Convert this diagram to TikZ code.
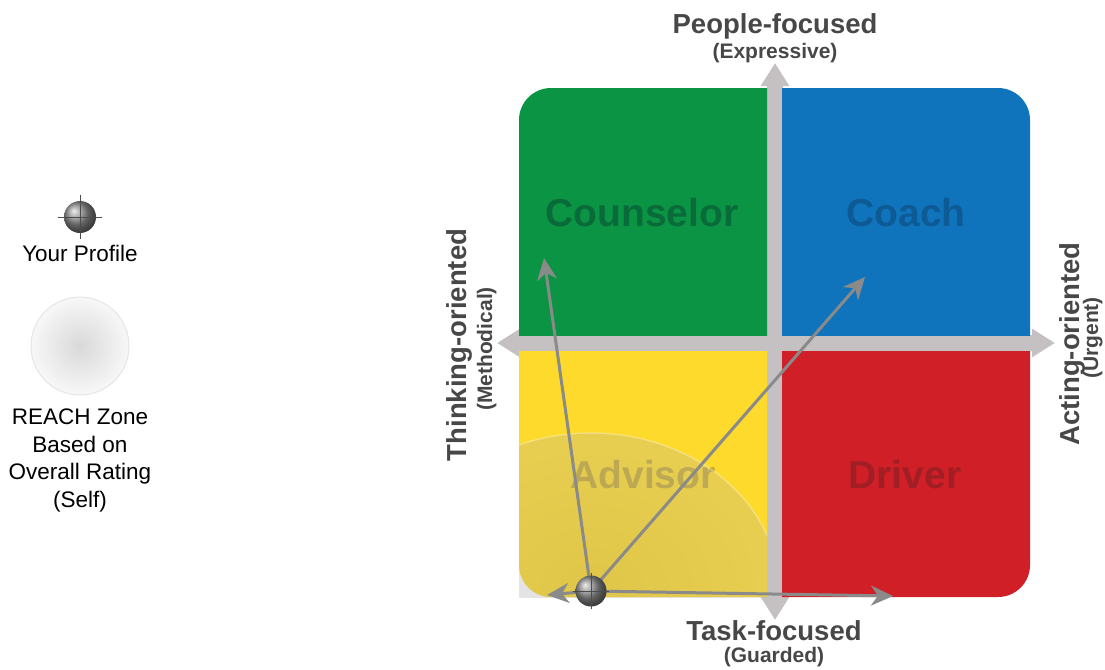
\documentclass[tikz,border=0pt]{standalone}
\usepackage{fontspec}
\setmainfont{Liberation Sans}
\usepackage{tikz}
\usetikzlibrary{arrows.meta,positioning,calc}

\definecolor{qgreen}{HTML}{0B9444}
\definecolor{qblue}{HTML}{0F74BB}
\definecolor{qyellow}{HTML}{FDDA2B}
\definecolor{qred}{HTML}{D11F27}
\definecolor{labgreen}{HTML}{0A6B3A}
\definecolor{labblue}{HTML}{0D5A94}
\definecolor{labyellow}{HTML}{C4A832}
\definecolor{labred}{HTML}{A11E24}
\definecolor{crossgray}{HTML}{C5C1C2}
\definecolor{axisgray}{HTML}{474747}
\definecolor{vecgray}{HTML}{8A8A8A}

% profile marker: name, place, diameter, arm length
\newcommand{\profmark}[4]{%
  \node[profball, minimum size=#3] (#1) at (#2) {};
  \draw[crossline] ([xshift=-#4]#1.center) -- ([xshift=#4]#1.center);
  \draw[crossline] ([yshift=-#4]#1.center) -- ([yshift=#4]#1.center);
}

\begin{document}
\begin{tikzpicture}[x=1pt, y=-1pt,
    axisbar/.style={draw=crossgray, line width=16pt, arrows={Triangle[length=23pt,width=27pt]-Triangle[length=23pt,width=27pt]}},
    quadlab/.style={font=\fontsize{39}{44}\selectfont\bfseries, inner sep=0pt, anchor=base},
    axislab/.style={font=\fontsize{27.5}{32}\selectfont\bfseries, text=axisgray, inner sep=0pt, anchor=base},
    axissub/.style={font=\fontsize{21}{25}\selectfont\bfseries, text=axisgray, inner sep=0pt, anchor=base},
    legendlab/.style={font=\fontsize{22.5}{27.7}\selectfont, inner sep=0pt, align=center},
    vecarrow/.style={draw=vecgray, line width=3pt, -{Stealth[length=22pt,width=20pt,inset=7pt]}},
    profball/.style={circle, inner sep=0pt, ball color=black!45},
    crossline/.style={draw=black!70, line width=0.8pt},
  ]
    \useasboundingbox (0,0) rectangle (1105,669);

    % Legend
    \profmark{legball}{80,217}{32pt}{22pt}
    \node[legendlab, anchor=base] (legprof) at (80,261) {Your Profile};
    \node[circle, minimum size=98pt, inner color=gray!30, outer color=gray!6, draw=gray!20, line width=1pt] (legzone) at (80,346) {};
    \node[legendlab, anchor=north] (legreach) at (80,408.5) {REACH Zone\\Based on\\Overall Rating\\(Self)};

    % Axes
    \draw[axisbar] (497,343) -- (1055,343);
    \draw[axisbar] (775,63) -- (775,620);

    % Quadrants
    \foreach \qcol/\xa/\ya/\xb/\yb in {qgreen/519/88/767/335, qblue/782/88/1030/335,
                                      qyellow/519/351/767/597, qred/782/351/1030/597} {
      \begin{scope}
        \clip (\xa,\ya) rectangle (\xb,\yb);
        \fill[\qcol, rounded corners=32pt] (519,88) rectangle (1030,597);
      \end{scope}
    }
    \node[quadlab, text=labgreen] (counsel) at (642,226) {Counselor};
    \node[quadlab, text=labblue] (coach) at (906,226) {Coach};
    \node[quadlab, text=labyellow] (advisor) at (643,488) {Advisor};
    \node[quadlab, text=labred] (driver) at (905,488) {Driver};

    % Axis labels
    \node[axislab] (people) at (775,34) {People-focused};
    \node[axissub] (express) at (775,59) {(Expressive)};
    \node[axislab] (task) at (774,640) {Task-focused};
    \node[axissub] (guard) at (774,662) {(Guarded)};
    \node[axislab, rotate=90] (think) at (466,345) {Thinking-oriented};
    \node[axissub, rotate=90] (method) at (492,349) {(Methodical)};
    \node[axislab, rotate=90] (act) at (1079,344) {Acting-oriented};
    \node[axissub, rotate=90] (urgent) at (1098,338) {(Urgent)};

    % REACH zone
    \coordinate (prof) at (591,591);
    \begin{scope}
      \clip (519,88) rectangle (767,597);
      \shade[inner color=black!42, outer color=black!30, opacity=0.28] (prof) ellipse [x radius=188pt, y radius=158pt];
      \draw[white, opacity=0.3, line width=1.5pt] (prof) ellipse [x radius=188pt, y radius=158pt];
    \end{scope}

    % Profile vectors
    \coordinate (tipcounsel) at (544,258);
    \coordinate (tipcoach) at (865,277);
    \coordinate (tipleft) at (547,595);
    \coordinate (tipright) at (893,596);
    \foreach \t in {tipcounsel,tipcoach,tipleft,tipright}
      \draw[vecarrow] (prof) -- (\t);
    \profmark{ball}{prof}{31pt}{18pt}
\end{tikzpicture}
\end{document}
